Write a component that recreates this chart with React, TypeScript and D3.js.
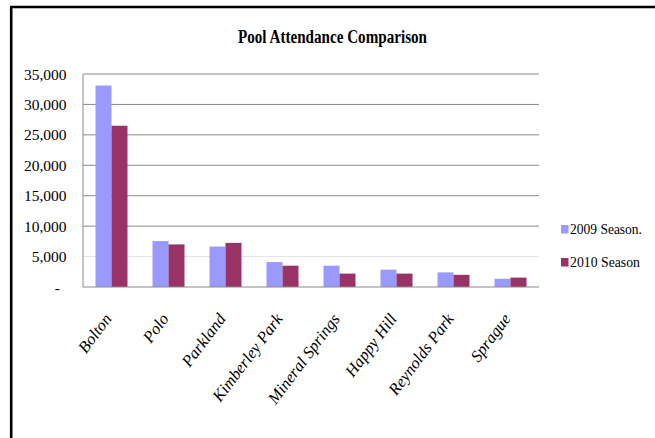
import React from "react";
import * as d3 from "d3";

const categories = ["Bolton", "Polo", "Parkland", "Kimberley Park", "Mineral Springs", "Happy Hill", "Reynolds Park", "Sprague"];
const season2009 = [33100, 7550, 6650, 4100, 3500, 2850, 2400, 1350];
const season2010 = [26500, 7000, 7250, 3500, 2200, 2200, 2000, 1550];
const seriesNames = ["2009 Season.", "2010 Season"];
const seriesColors = ["#9999FF", "#993366"];
const yTicks = [0, 5000, 10000, 15000, 20000, 25000, 30000, 35000];

const W = 655;
const H = 438;
const plot = { left: 83, right: 539, top: 74, bottom: 287 };
const font = "Liberation Serif, DejaVu Serif, serif";

export default function App() {
  const x = d3.scaleBand<string>().domain(categories).range([plot.left, plot.right]).paddingInner(0).paddingOuter(0);
  const y = d3.scaleLinear().domain([0, 35000]).range([plot.bottom, plot.top]);
  const inner = d3.scaleBand<number>().domain([0, 1]).range([0, 32]);
  const fmt = d3.format(",");
  const series = [season2009, season2010];

  return (
    <svg width={W} height={H} style={{ position: "absolute", left: 0, top: 0, background: "#fff", fontFamily: font }}>
      <rect x={0} y={0} width={W} height={H} fill="#fff" />
      <path d={`M11.2,${H} V7 H${W}`} fill="none" stroke="#000" strokeWidth={2.6} />
      <text x={332.5} y={43} textAnchor="middle" fontSize={18} fontWeight="bold" textLength={189} lengthAdjust="spacingAndGlyphs" fill="#000" style={{ fontFamily: font }}>
        Pool Attendance Comparison
      </text>
      {yTicks.map((t) => (
        <g key={t}>
          {t > 0 && (
            <line x1={plot.left} x2={plot.right} y1={y(t)} y2={y(t)} stroke={t === 5000 ? "#e4e4e4" : "#8a8a8a"} strokeWidth={1} />
          )}
          <text x={t === 0 ? 60 : 66.5} y={y(t) + 5.5} textAnchor="end" fontSize={15.5} fill="#000" style={{ fontFamily: font }}>
            {t === 0 ? "-" : fmt(t)}
          </text>
        </g>
      ))}
      <line x1={plot.left} x2={plot.left} y1={plot.top} y2={plot.bottom} stroke="#8a8a8a" strokeWidth={1} />
      {categories.map((c, i) => {
        const bx = (x(c) as number) + (x.bandwidth() - 32) / 2;
        return (
          <g key={c}>
            {series.map((s, k) => (
              <rect key={k} x={bx + (inner(k) as number)} y={y(s[i])} width={inner.bandwidth()} height={y(0) - y(s[i])} fill={seriesColors[k]} />
            ))}
          </g>
        );
      })}
      <line x1={plot.left} x2={plot.right} y1={plot.bottom} y2={plot.bottom} stroke="#8a8a8a" strokeWidth={1} />
      {categories.map((c) => {
        const cx = (x(c) as number) + x.bandwidth() / 2;
        return (
          <text key={c} transform={`translate(${cx + 1},${319}) rotate(-53)`} textAnchor="end" fontSize={16.5} fontStyle="italic" fill="#000" style={{ fontFamily: font }}>
            {c}
          </text>
        );
      })}
      {seriesNames.map((n, k) => (
        <g key={n}>
          <rect x={561} y={225 + k * 33} width={7.5} height={8.5} fill={seriesColors[k]} />
          <text x={570} y={234 + k * 33} fontSize={15} textLength={k === 0 ? 72 : 70} lengthAdjust="spacingAndGlyphs" fill="#000" style={{ fontFamily: font }}>
            {n}
          </text>
        </g>
      ))}
    </svg>
  );
}
